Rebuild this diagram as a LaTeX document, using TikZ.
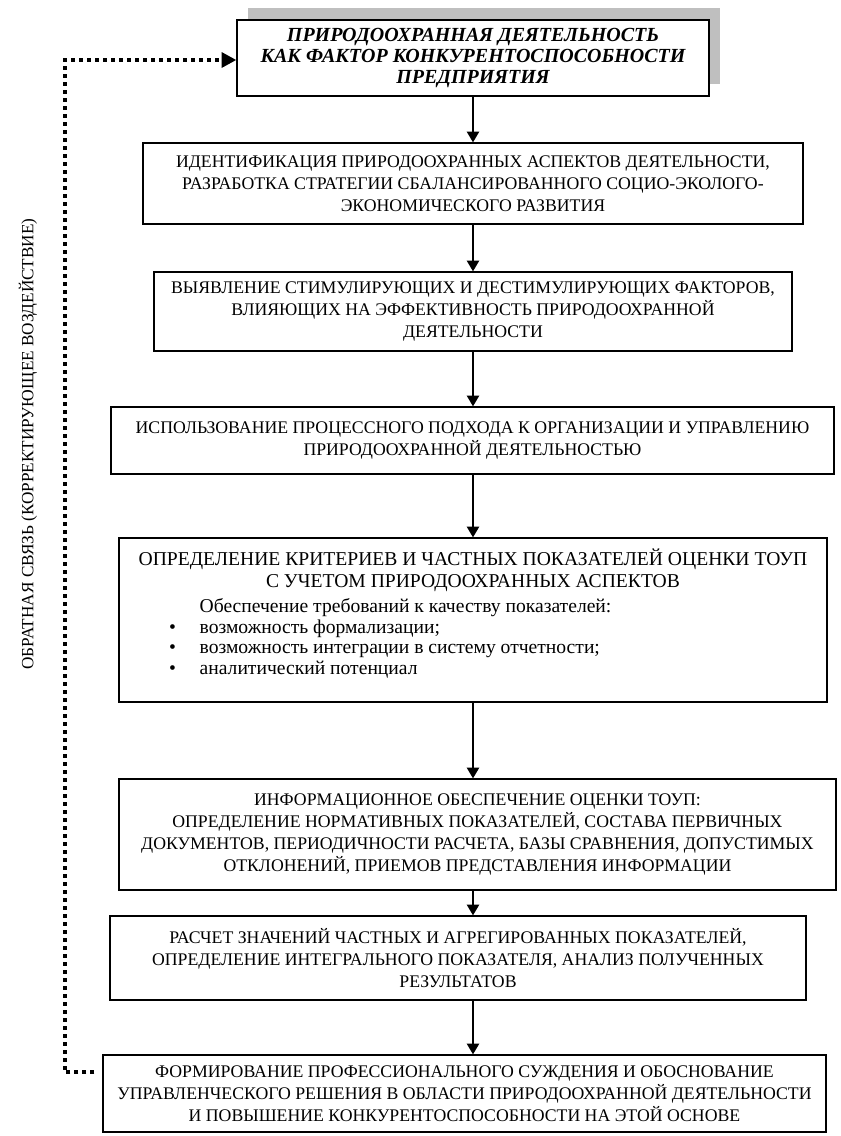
\documentclass[tikz,border=0pt]{standalone}
\usepackage{fontspec}
\setmainfont{Liberation Serif}
\usetikzlibrary{arrows.meta,shadows}

\begin{document}
\begin{tikzpicture}[
		x=0.75pt, y=-0.75pt,
		every node/.style={draw, line width=0.9pt, align=center, inner sep=2pt, font=\fontsize{13.3}{16.5}\selectfont},
		flow/.style={line width=1.5pt, -{Triangle[width=9pt,length=8pt]}},
		feedback/.style={line width=3pt, dash pattern=on 3pt off 3pt, -{Triangle[width=11pt,length=11pt]}}
	]
  \useasboundingbox (0,0) rectangle (840,1136);
  \node (top) [fill=white, minimum width=354pt, minimum height=57pt, font=\fontsize{15}{15.75}\selectfont\bfseries\itshape,
    drop shadow={shadow xshift=8.5pt, shadow yshift=9pt, fill=gray!50, draw=none, opacity=1}] at (473,58)
    {ПРИРОДООХРАННАЯ ДЕЯТЕЛЬНОСТЬ\\ КАК ФАКТОР КОНКУРЕНТОСПОСОБНОСТИ\\ ПРЕДПРИЯТИЯ};
  \node (ident) [minimum width=495pt, minimum height=60.75pt] at (473,183.5)
    {ИДЕНТИФИКАЦИЯ ПРИРОДООХРАННЫХ АСПЕКТОВ ДЕЯТЕЛЬНОСТИ,\\ РАЗРАБОТКА СТРАТЕГИИ СБАЛАНСИРОВАННОГО СОЦИО-ЭКОЛОГО-\\ ЭКОНОМИЧЕСКОГО РАЗВИТИЯ};
  \node (factors) [minimum width=478.5pt, minimum height=59.25pt] at (473,311.5)
    {ВЫЯВЛЕНИЕ СТИМУЛИРУЮЩИХ И ДЕСТИМУЛИРУЮЩИХ ФАКТОРОВ,\\ ВЛИЯЮЩИХ НА ЭФФЕКТИВНОСТЬ ПРИРОДООХРАННОЙ\\ ДЕЯТЕЛЬНОСТИ};
  \node (process) [minimum width=542.25pt, minimum height=50.25pt] at (472.5,440.5)
    {ИСПОЛЬЗОВАНИЕ ПРОЦЕССНОГО ПОДХОДА К ОРГАНИЗАЦИИ И УПРАВЛЕНИЮ\\ ПРИРОДООХРАННОЙ ДЕЯТЕЛЬНОСТЬЮ};
  \node (crit) [minimum width=531pt, minimum height=123pt] at (473,620) {%
    \begin{minipage}{520pt}
      \centering\fontsize{14.7}{17}\selectfont
      ОПРЕДЕЛЕНИЕ КРИТЕРИЕВ И ЧАСТНЫХ ПОКАЗАТЕЛЕЙ ОЦЕНКИ ТОУП\\
      С УЧЕТОМ ПРИРОДООХРАННЫХ АСПЕКТОВ\par
      \raggedright\fontsize{14.7}{15.5}\selectfont
      \vspace*{3pt}
      \hspace*{55pt}Обеспечение требований к качеству показателей:\par
      \hspace*{32pt}\makebox[23pt][l]{\textbullet}возможность формализации;\par
      \hspace*{32pt}\makebox[23pt][l]{\textbullet}возможность интеграции в систему отчетности;\par
      \hspace*{32pt}\makebox[23pt][l]{\textbullet}аналитический потенциал\par
      \vspace*{10pt}
    \end{minipage}};
  \node (info) [minimum width=537.75pt, minimum height=83.25pt] at (477.5,834.5)
    {ИНФОРМАЦИОННОЕ ОБЕСПЕЧЕНИЕ ОЦЕНКИ ТОУП:\\ ОПРЕДЕЛЕНИЕ НОРМАТИВНЫХ ПОКАЗАТЕЛЕЙ, СОСТАВА ПЕРВИЧНЫХ\\ ДОКУМЕНТОВ, ПЕРИОДИЧНОСТИ РАСЧЕТА, БАЗЫ СРАВНЕНИЯ, ДОПУСТИМЫХ\\ ОТКЛОНЕНИЙ, ПРИЕМОВ ПРЕДСТАВЛЕНИЯ ИНФОРМАЦИИ};
  \node (calc) [minimum width=522pt, minimum height=63pt] at (458,958)
    {РАСЧЕТ ЗНАЧЕНИЙ ЧАСТНЫХ И АГРЕГИРОВАННЫХ ПОКАЗАТЕЛЕЙ,\\ ОПРЕДЕЛЕНИЕ ИНТЕГРАЛЬНОГО ПОКАЗАТЕЛЯ, АНАЛИЗ ПОЛУЧЕННЫХ\\ РЕЗУЛЬТАТОВ};
  \node (fin) [minimum width=542.25pt, minimum height=57.75pt] at (464.5,1093.5)
    {ФОРМИРОВАНИЕ ПРОФЕССИОНАЛЬНОГО СУЖДЕНИЯ И ОБОСНОВАНИЕ\\ УПРАВЛЕНЧЕСКОГО РЕШЕНИЯ В ОБЛАСТИ ПРИРОДООХРАННОЙ ДЕЯТЕЛЬНОСТИ\\ И ПОВЫШЕНИЕ КОНКУРЕНТОСПОСОБНОСТИ НА ЭТОЙ ОСНОВЕ};
  \node (fb_label) [draw=none, rotate=90, font=\fontsize{12.9}{14}\selectfont] at (28,444)
    {ОБРАТНАЯ СВЯЗЬ (КОРРЕКТИРУЮЩЕЕ ВОЗДЕЙСТВИЕ)};
  \coordinate (fb_corner) at (65,60);
  \draw[flow] (top.south) -- (top.south |- ident.north);
  \draw[flow] (top.south |- ident.south) -- (top.south |- factors.north);
  \draw[flow] (top.south |- factors.south) -- (top.south |- process.north);
  \draw[flow] (top.south |- process.south) -- (top.south |- crit.north);
  \draw[flow] (top.south |- crit.south) -- (top.south |- info.north);
  \draw[flow] (top.south |- info.south) -- (top.south |- calc.north);
  \draw[flow] (top.south |- calc.south) -- (top.south |- fin.north);
  \draw[feedback] ([xshift=-6pt,yshift=16pt]fin.west) -| (fb_corner) -- (fb_corner -| top.west);
\end{tikzpicture}
\end{document}
